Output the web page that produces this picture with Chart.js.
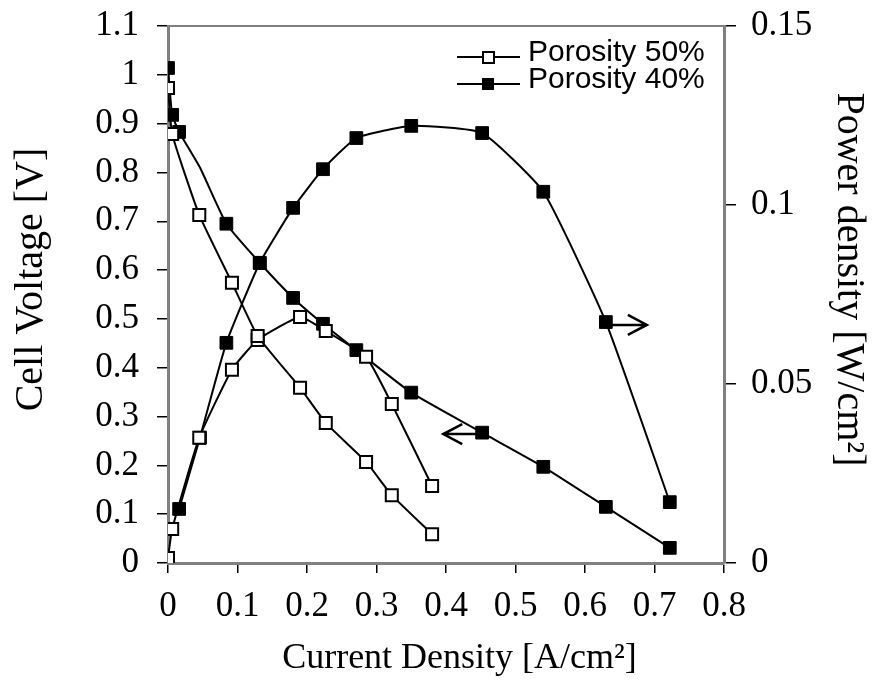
<!DOCTYPE html>
<html>
<head>
<meta charset="utf-8">
<script src="https://cdn.jsdelivr.net/npm/chart.js@4.4.1/dist/chart.umd.min.js"></script>
<style>
  html, body { margin: 0; padding: 0; background: #fff; }
  #wrap { width: 872px; height: 695px; }
</style>
</head>
<body>
<div id="wrap"><canvas id="chart" width="872" height="695"></canvas></div>
<script>
// current density [A/cm2]
const current50 = [0, 0.006, 0.045, 0.092, 0.129, 0.19, 0.227, 0.285, 0.322, 0.38];
const voltage50 = [0.973, 0.879, 0.713, 0.574, 0.465, 0.359, 0.287, 0.207, 0.139, 0.059];
const power50 = [0.0014, 0.0095, 0.035, 0.054, 0.0623, 0.0687, 0.0648, 0.0576, 0.0444, 0.0215];

const current40 = [0, 0.006, 0.016, 0.046, 0.084, 0.132, 0.18, 0.223, 0.271, 0.35, 0.452, 0.54, 0.63, 0.722];
const voltage40 = [1.014, 0.918, 0.883, 0.81, 0.695, 0.615, 0.543, 0.49, 0.436, 0.349, 0.267, 0.197, 0.115, 0.031];
// power for 40% starts at the third current value
const powerCurrent40 = current40.slice(2);
const power40 = [0.0151, 0.035, 0.0615, 0.0838, 0.0992, 0.110, 0.1187, 0.1221, 0.1201, 0.1037, 0.0673, 0.017];

const seriesNames = ['Porosity 50%', 'Porosity 40%'];

// arrows pointing at the axis each curve belongs to: [xFrom, xTo, y, axis]
const arrows = [
  [0.636, 0.689, 0.0665, 'y2'],
  [0.449, 0.396, 0.264, 'y']
];

const pts = (xs, ys) => xs.map((x, i) => ({ x: x, y: ys[i] }));
const fmt = v => String(Number(v.toFixed(2)));

const serif = 'Liberation Serif, Times New Roman, serif';
const tickFont = { family: serif, size: 35 };
const titleFont = { family: serif, size: 40 };

const lineBase = {
  borderColor: '#000',
  borderWidth: 2,
  pointStyle: 'rect',
  tension: 0.15,
  showLine: true
};
const openPt = { pointBackgroundColor: '#fff', pointBorderColor: '#000', pointBorderWidth: 2, pointRadius: 8.5, order: 0 };
const filledPt = { pointBackgroundColor: '#000', pointBorderColor: '#000', pointBorderWidth: 1, pointRadius: 9, order: 1 };

// fixed axis box sizes, and no extra room for half labels at the ends
const fixWidth = w => s => { s.width = w; s.paddingTop = 0; s.paddingBottom = 0; };

const framePlugin = {
  id: 'frame',
  beforeDatasetsDraw(chart) {
    const { ctx, chartArea: a } = chart;
    ctx.save();
    ctx.strokeStyle = '#808080';
    ctx.lineWidth = 2;
    ctx.beginPath();
    ctx.moveTo(a.left, a.top);
    ctx.lineTo(a.right, a.top);
    ctx.stroke();
    ctx.restore();
  },
  afterDatasetsDraw(chart) {
    const { ctx, scales } = chart;
    ctx.save();
    ctx.strokeStyle = '#000';
    ctx.lineWidth = 2.5;
    arrows.forEach(([x0, x1, y, axis]) => {
      const px0 = scales.x.getPixelForValue(x0);
      const px1 = scales.x.getPixelForValue(x1);
      const py = scales[axis].getPixelForValue(y);
      const dir = Math.sign(px1 - px0);
      ctx.beginPath();
      ctx.moveTo(px0, py);
      ctx.lineTo(px1, py);
      ctx.moveTo(px1 - dir * 19, py - 10);
      ctx.lineTo(px1, py);
      ctx.lineTo(px1 - dir * 19, py + 10);
      ctx.stroke();
    });
    // legend
    const rows = [[457, 57, true], [457, 84, false]];
    rows.forEach(([lx, ly, open], i) => {
      ctx.beginPath();
      ctx.lineWidth = 2;
      ctx.moveTo(lx, ly);
      ctx.lineTo(lx + 63, ly);
      ctx.stroke();
      if (open) {
        ctx.fillStyle = '#fff';
        ctx.fillRect(lx + 26, ly - 5, 11, 11);
        ctx.strokeRect(lx + 26, ly - 5, 11, 11);
      } else {
        ctx.fillStyle = '#000';
        ctx.fillRect(lx + 25, ly - 6, 12, 12);
      }
      ctx.fillStyle = '#000';
      ctx.font = '30px "Liberation Sans", Arial, sans-serif';
      ctx.textBaseline = 'alphabetic';
      ctx.fillText(seriesNames[i], lx + 71, ly + 4);
    });
    ctx.restore();
  }
};

new Chart(document.getElementById('chart'), {
  type: 'scatter',
  data: {
    datasets: [
      Object.assign({ label: seriesNames[0] + ' V', data: pts(current50, voltage50), yAxisID: 'y' }, lineBase, openPt),
      Object.assign({ label: seriesNames[0] + ' P', data: pts(current50, power50), yAxisID: 'y2' }, lineBase, openPt),
      Object.assign({ label: seriesNames[1] + ' V', data: pts(current40, voltage40), yAxisID: 'y' }, lineBase, filledPt,
        { pointRadius: c => c.dataIndex === 3 ? 0 : 9 }),
      Object.assign({ label: seriesNames[1] + ' P', data: pts(powerCurrent40, power40), yAxisID: 'y2' }, lineBase, filledPt)
    ]
  },
  options: {
    responsive: false,
    animation: false,
    devicePixelRatio: 1,
    layout: { padding: { top: 26, left: 0, right: 0, bottom: 0 } },
    plugins: { legend: { display: false }, tooltip: { enabled: false } },
    scales: {
      x: {
        type: 'linear', min: 0, max: 0.8,
        ticks: { stepSize: 0.1, font: tickFont, color: '#000', padding: 13, maxRotation: 0, callback: fmt },
        grid: { drawOnChartArea: false, color: '#000', tickLength: 10, lineWidth: 1.5 },
        border: { color: '#808080', width: 3 },
        title: { display: true, text: '   Current Density [A/cm²]', font: { family: serif, size: 36 }, color: '#000', padding: { bottom: 15 } },
        afterFit: s => { s.height = 132; }
      },
      y: {
        position: 'left', min: 0, max: 1.1,
        ticks: { stepSize: 0.1, font: tickFont, color: '#000', padding: 18, callback: fmt },
        grid: { drawOnChartArea: false, color: '#000', tickLength: 11, lineWidth: 1.5 },
        border: { color: '#808080', width: 3 },
        title: { display: true, text: '   Cell Voltage [V]', font: titleFont, color: '#000', padding: { top: 7 } },
        afterFit: fixWidth(168)
      },
      y2: {
        position: 'right', min: 0, max: 0.15,
        ticks: { stepSize: 0.05, font: tickFont, color: '#000', padding: 15, callback: fmt },
        grid: { drawOnChartArea: false, color: '#000', tickLength: 12, lineWidth: 1.5 },
        border: { color: '#808080', width: 3 },
        title: { display: true, text: 'Power density [W/cm²]   ', font: titleFont, color: '#000', padding: { top: 0 } },
        afterFit: fixWidth(148)
      }
    }
  },
  plugins: [framePlugin]
});
</script>
</body>
</html>
